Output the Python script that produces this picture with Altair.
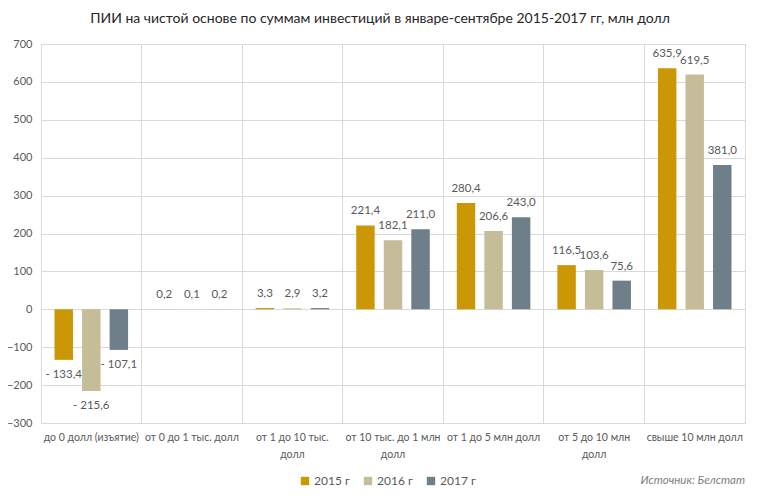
import altair as alt
import pandas as pd

categories = [
    "до 0 долл (изъятие)",
    "от 0 до 1 тыс. долл",
    "от 1 до 10 тыс. долл",
    "от 10 тыс. до 1 млн долл",
    "от 1 до 5 млн долл",
    "от 5 до 10 млн долл",
    "свыше 10 млн долл",
]
label_lines = {
    "от 1 до 10 тыс. долл": ["от 1 до 10 тыс.", "долл"],
    "от 10 тыс. до 1 млн долл": ["от 10 тыс. до 1 млн", "долл"],
    "от 5 до 10 млн долл": ["от 5 до 10 млн", "долл"],
}
years = ["2015 г", "2016 г", "2017 г"]
v2015 = [-133.4, 0.2, 3.3, 221.4, 280.4, 116.5, 635.9]
v2016 = [-215.6, 0.1, 2.9, 182.1, 206.6, 103.6, 619.5]
v2017 = [-107.1, 0.2, 3.2, 211.0, 243.0, 75.6, 381.0]
colors = ["#cc9705", "#c4bd97", "#6e7f8a"]
y_ticks = [-300, -200, -100, 0, 100, 200, 300, 400, 500, 600, 700]

rows = []
for yr, vals in zip(years, [v2015, v2016, v2017]):
    for c, v in zip(categories, vals):
        s = f"{abs(v):.1f}".replace(".", ",")
        rows.append({"cat": c, "year": yr, "value": v,
                     "label": ("- " + s) if v < 0 else s})
df = pd.DataFrame(rows)

parts = []
for k, lines in label_lines.items():
    parts.append("datum.label == '%s' ? ['%s', '%s']" % (k, lines[0], lines[1]))
label_expr = " : ".join(parts) + " : datum.label"

FONT = "Lato"
TXT = "#595959"

x = alt.X("cat:N", sort=categories, title=None,
          scale=alt.Scale(paddingInner=0, paddingOuter=0),
          axis=alt.Axis(labelAngle=0, labelExpr=label_expr, domain=False, ticks=False,
                        grid=True, bandPosition=1, gridColor="#d9d9d9",
                        labelFont=FONT, labelFontSize=10.5, labelColor=TXT,
                        labelPadding=9, labelLimit=200, labelLineHeight=17))
xoff = alt.XOffset("year:N", sort=years,
                   scale=alt.Scale(paddingInner=0.33, paddingOuter=0.49))
y = alt.Y("value:Q", title=None,
          scale=alt.Scale(domain=[-300, 700], nice=False),
          axis=alt.Axis(values=y_ticks, domain=False, ticks=False, gridColor="#d9d9d9",
                        labelFont=FONT, labelFontSize=11, labelColor=TXT,
                        labelPadding=9))
color = alt.Color("year:N", sort=years, title=None,
                  scale=alt.Scale(domain=years, range=colors),
                  legend=alt.Legend(orient="none", direction="horizontal",
                                    legendX=258, legendY=431, symbolType="square",
                                    symbolSize=70, symbolStrokeWidth=0,
                                    labelFont=FONT, labelFontSize=12, labelColor=TXT,
                                    columnPadding=12, labelOffset=3))

base = alt.Chart(df)
bars = base.mark_bar().encode(x=x, xOffset=xoff, y=y, color=color)
pos_txt = base.transform_filter("datum.value >= 0").mark_text(
    dy=-9, font=FONT, fontSize=11.5, color=TXT, baseline="bottom"
).encode(x=x, xOffset=xoff, y=y, text="label:N")
neg_txt = base.transform_filter("datum.value < 0").mark_text(
    dy=9, font=FONT, fontSize=11.5, color=TXT, baseline="top"
).encode(x=x, xOffset=xoff, y=y, text="label:N")
source = alt.Chart(pd.DataFrame({"t": ["Источник: Белстат"]})).mark_text(
    font=FONT, fontSize=11.5, fontStyle="italic", color="#7f7f7f", align="right",
    baseline="middle"
).encode(x=alt.value(704), y=alt.value(437), text="t:N")

chart = alt.layer(bars, pos_txt, neg_txt, source).properties(
    width=704, height=379,
    autosize=alt.AutoSizeParams(type="none"),
    padding={"left": 33, "top": 36, "right": 7, "bottom": 70},
    title=alt.TitleParams(
        "ПИИ на чистой основе по суммам инвестиций в январе-сентябре 2015-2017 гг, млн долл",
        font=FONT, fontSize=14, fontWeight="normal", color="#262626",
        anchor="middle", dx=-13, offset=12),
).configure_view(stroke=None).configure(background="white")

chart.save("out.html", embed_options={"renderer": "svg", "actions": False})
